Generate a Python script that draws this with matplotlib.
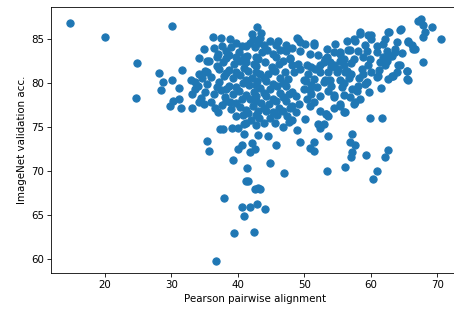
import matplotlib
matplotlib.use("Agg")
import matplotlib.pyplot as plt

# Pearson pairwise alignment (x) vs ImageNet validation accuracy (y)
pearson_align = [
    # sparse points on the left
    14.7, 20.0, 24.8, 24.7, 30.1, 28.2, 31.6, 28.7, 30.1, 28.4, 31.1, 30.2, 29.8, 31.5, 31.1,
    33.1, 33.6, 33.1, 34.1, 33.0, 34.0, 33.5,
    # 34 - 36.5
    34.9, 35.4, 35.1, 34.6, 35.0, 34.5, 34.9,
    36.3, 36.4, 35.6, 35.3, 36.0, 35.4, 36.4, 35.9, 36.6, 35.4, 35.7,
    # 37 - 39.5
    37.4, 37.6, 37.0, 37.8, 37.2, 37.9, 37.1, 37.5, 38.0, 37.0, 37.3, 37.8, 37.6,
    38.8, 39.0, 38.6, 39.4, 38.7, 39.2, 38.6, 39.3, 38.8, 38.9, 39.1, 39.3,
    # 40 - 43.5
    40.6, 40.2, 40.9, 40.3, 41.0, 40.4, 40.8, 40.2, 40.7, 40.3, 40.8, 40.9, 40.1, 41.0, 40.6, 40.1,
    42.1, 42.3, 41.8, 42.6, 41.4, 42.4, 41.6, 42.2, 41.7, 42.5, 41.9, 42.3, 41.6, 42.0, 42.1, 42.6,
    41.9, 41.4, 41.2, 41.6,
    42.9, 43.5, 43.4, 43.0, 43.6, 43.1, 42.8, 43.4, 42.9, 43.3, 42.8, 43.5, 43.0, 43.2, 42.8, 43.1, 43.0,
    # low tail under the main cluster
    37.9, 42.6, 43.3, 40.7, 41.8, 42.9, 44.1, 40.9, 39.5, 42.5, 36.7,
    # 44 - 49.5
    44.9, 44.4, 44.1, 45.1, 44.5, 44.2, 44.8, 44.3, 44.7, 44.2, 44.9, 44.6, 44.9,
    46.0, 45.8, 46.3, 45.7, 46.2, 45.6, 46.4, 45.9, 46.3, 45.7, 46.2, 45.9, 45.6, 45.8,
    47.9, 47.8, 47.1, 47.3, 47.6, 47.2, 47.7, 47.3, 47.8, 47.4, 47.7, 47.0, 47.2,
    48.9, 49.1, 49.4, 49.3, 49.1, 48.4, 49.4, 49.9, 49.9, 48.7, 49.2, 48.8, 48.9, 49.3,
    # 50 - 55.5
    50.1, 50.9, 50.4, 50.6, 50.2, 50.8, 50.4, 50.8, 50.1, 50.9,
    51.4, 51.5, 51.6, 52.4, 52.4, 51.4, 51.4, 52.1, 52.4, 51.5, 51.5, 51.9, 52.0,
    53.4, 53.4, 53.1, 52.9, 53.9, 53.1, 52.9, 53.9, 53.6, 53.3, 53.6, 53.3, 52.9, 53.6, 53.4, 54.4, 53.5,
    54.6, 55.4, 55.4, 54.4, 55.1, 54.9, 55.4, 55.6, 54.4, 54.4, 55.4, 55.4, 54.4,
    # 56 - 61.5
    56.4, 56.8, 56.6, 55.9, 56.4, 56.1, 55.9, 56.9, 55.9, 56.1, 57.1, 56.8, 57.1, 57.0, 56.1, 57.1, 56.7, 57.6,
    58.4, 57.4, 57.6, 57.4, 58.6, 58.1, 57.9, 58.4, 57.6, 57.4, 58.4, 58.0, 58.2,
    59.6, 60.1, 59.1, 59.9, 59.4, 59.1, 60.1, 59.9, 59.2, 59.5, 59.6, 59.8,
    60.1, 60.9, 60.9, 61.1, 61.4, 61.6, 61.7, 61.0, 60.4, 61.0, 61.2,
    # 62 - 71
    62.6, 62.8, 62.1, 61.9, 62.5, 61.9, 62.9, 62.5, 62.1, 62.6, 62.6, 62.1,
    64.5, 64.4, 63.9, 63.6, 63.6, 63.2, 64.1, 64.4, 63.4, 63.2, 63.9, 64.75,
    65.6, 65.6, 66.2, 66.4, 66.7, 65.4, 65.4, 65.6, 65.5,
    67.6, 67.1, 67.9, 69.25, 68.2, 67.9, 70.6, 67.8,
    # points in between, where the main cluster is solid
    38.2, 38.2, 38.2, 38.2, 38.2,
    39.8, 39.8, 39.8, 39.8, 39.8, 39.8,
    41.2, 41.2, 41.2, 41.2, 41.2, 41.2,
    42.7, 42.7, 42.7, 42.7, 42.7,
    44.0, 44.0, 44.0, 44.0, 44.0,
    45.3, 45.3, 45.3, 45.3, 45.3,
    46.8, 46.8, 46.8, 46.8, 46.8,
    48.2, 48.2, 48.2, 48.2, 48.2,
    51.0, 51.0, 51.0, 52.3, 52.3,
    36.8, 36.8, 36.8, 34.2, 34.2,
    54.0, 54.0, 56.0, 56.0, 57.0, 57.0, 58.8, 58.8, 55.3,
]

imagenet_acc = [
    86.85, 85.25, 82.3, 78.25, 86.5, 81.15, 81.5, 80.15, 80.3, 79.2, 79.4, 78.0, 77.4, 77.2, 78.2,
    77.2, 80.1, 78.7, 77.8, 80.3, 79.7, 79.3,
    83.9, 82.5, 81.4, 80.6, 79.0, 78.3, 77.6,
    85.2, 84.0, 82.5, 81.3, 80.7, 79.9, 78.7, 77.8, 77.2, 73.4, 72.3,
    85.1, 84.2, 83.3, 82.4, 81.6, 80.8, 80.1, 79.2, 78.4, 76.65, 74.8, 74.8, 77.5,
    85.0, 84.1, 83.2, 82.2, 81.5, 80.6, 79.7, 78.8, 77.8, 77.0, 74.9, 71.2,
    84.2, 83.5, 83.0, 82.5, 81.7, 80.9, 80.0, 79.1, 78.2, 77.3, 76.4, 75.3, 74.9, 74.2, 73.0, 72.5,
    85.6, 85.0, 84.5, 84.1, 83.1, 82.2, 81.4, 80.6, 79.8, 79.0, 78.2, 77.4, 76.6, 75.8, 73.15, 72.5,
    72.2, 70.3, 68.85, 68.85,
    86.35, 85.7, 85.1, 84.6, 83.5, 82.7, 81.9, 81.0, 80.2, 79.4, 78.5, 77.7, 76.8, 76.0, 75.2, 74.1, 68.1,
    66.95, 67.9, 67.9, 65.95, 65.95, 66.2, 65.7, 64.85, 62.9, 63.1, 59.8,
    84.8, 83.7, 82.35, 81.8, 81.0, 80.2, 79.3, 78.5, 77.6, 76.8, 76.0, 74.0, 70.95,
    84.8, 84.3, 83.8, 83.0, 82.2, 81.4, 80.6, 79.7, 78.9, 78.0, 77.2, 76.4, 75.5, 73.0,
    82.7, 82.8, 81.2, 83.6, 80.5, 79.7, 78.8, 78.0, 77.2, 76.3, 75.6, 69.8, 84.3,
    85.1, 85.0, 84.65, 83.6, 82.2, 81.2, 81.6, 80.3, 79.3, 78.5, 77.6, 76.7, 74.6, 73.3,
    84.45, 83.3, 82.0, 81.0, 80.2, 79.2, 78.2, 77.4, 75.9, 72.65,
    84.5, 84.3, 81.6, 82.0, 81.2, 80.5, 77.8, 75.3, 74.9, 73.3, 72.3, 79.5, 83.2,
    83.9, 82.9, 82.7, 82.35, 82.35, 80.3, 80.1, 80.3, 79.1, 76.5, 76.3, 76.45, 75.3, 74.0, 70.0, 83.5, 81.3,
    84.45, 83.5, 83.3, 82.0, 81.6, 81.2, 80.3, 79.5, 78.6, 78.4, 77.6, 77.4, 77.2,
    84.8, 83.8, 83.7, 82.0, 81.4, 81.2, 78.6, 78.4, 76.65, 76.7, 74.25, 73.3, 72.1, 71.6, 70.4, 79.3, 80.6, 73.0,
    85.6, 84.95, 84.8, 82.7, 81.6, 79.7, 79.1, 78.2, 77.8, 77.6, 85.8, 83.6, 80.6,
    85.5, 85.0, 84.3, 82.7, 80.1, 79.9, 81.2, 76.0, 71.8, 83.6, 82.0, 79.0,
    85.5, 83.5, 80.65, 80.8, 82.35, 79.4, 76.0, 70.0, 69.05, 84.2, 81.5,
    85.8, 85.85, 85.0, 84.45, 83.6, 82.9, 83.1, 82.5, 82.0, 80.5, 72.4, 71.6,
    86.1, 86.05, 84.65, 83.9, 83.5, 83.1, 82.05, 82.0, 80.8, 80.8, 81.2, 83.4,
    84.8, 84.7, 84.3, 83.9, 83.9, 81.4, 81.4, 80.3, 80.4,
    87.3, 87.1, 86.55, 86.4, 85.8, 85.2, 85.0, 82.4,
    83.6, 82.8, 81.1, 79.3, 78.0,
    84.6, 82.9, 81.2, 79.5, 77.7, 76.2,
    84.2, 82.4, 80.3, 78.6, 76.9, 75.5,
    83.0, 81.3, 79.8, 78.0, 76.4,
    84.3, 80.6, 78.9, 77.2, 75.4,
    83.3, 81.5, 79.9, 78.2, 76.7,
    82.5, 80.0, 78.4, 76.8, 75.0,
    84.0, 82.0, 79.0, 77.4, 75.8,
    81.8, 79.8, 78.8, 78.5, 76.8,
    83.0, 81.9, 79.5, 82.8, 81.0,
    81.8, 79.7, 82.7, 80.0, 82.3, 81.0, 81.0, 83.0, 82.5,
]

dpi = 74
fig = plt.figure(figsize=(454 / dpi, 314 / dpi), dpi=dpi)
# right spine falls at the very edge of the saved picture in the reference
ax = fig.add_axes([0.1123, 0.1315, 1.013 - 0.1123, 0.9787 - 0.1315])

ax.scatter(pearson_align, imagenet_acc, s=50, color='#1f77b4')
ax.set_xlabel('Pearson pairwise alignment')
ax.set_ylabel('ImageNet validation acc.')

fig.savefig('out.png', dpi=dpi)
